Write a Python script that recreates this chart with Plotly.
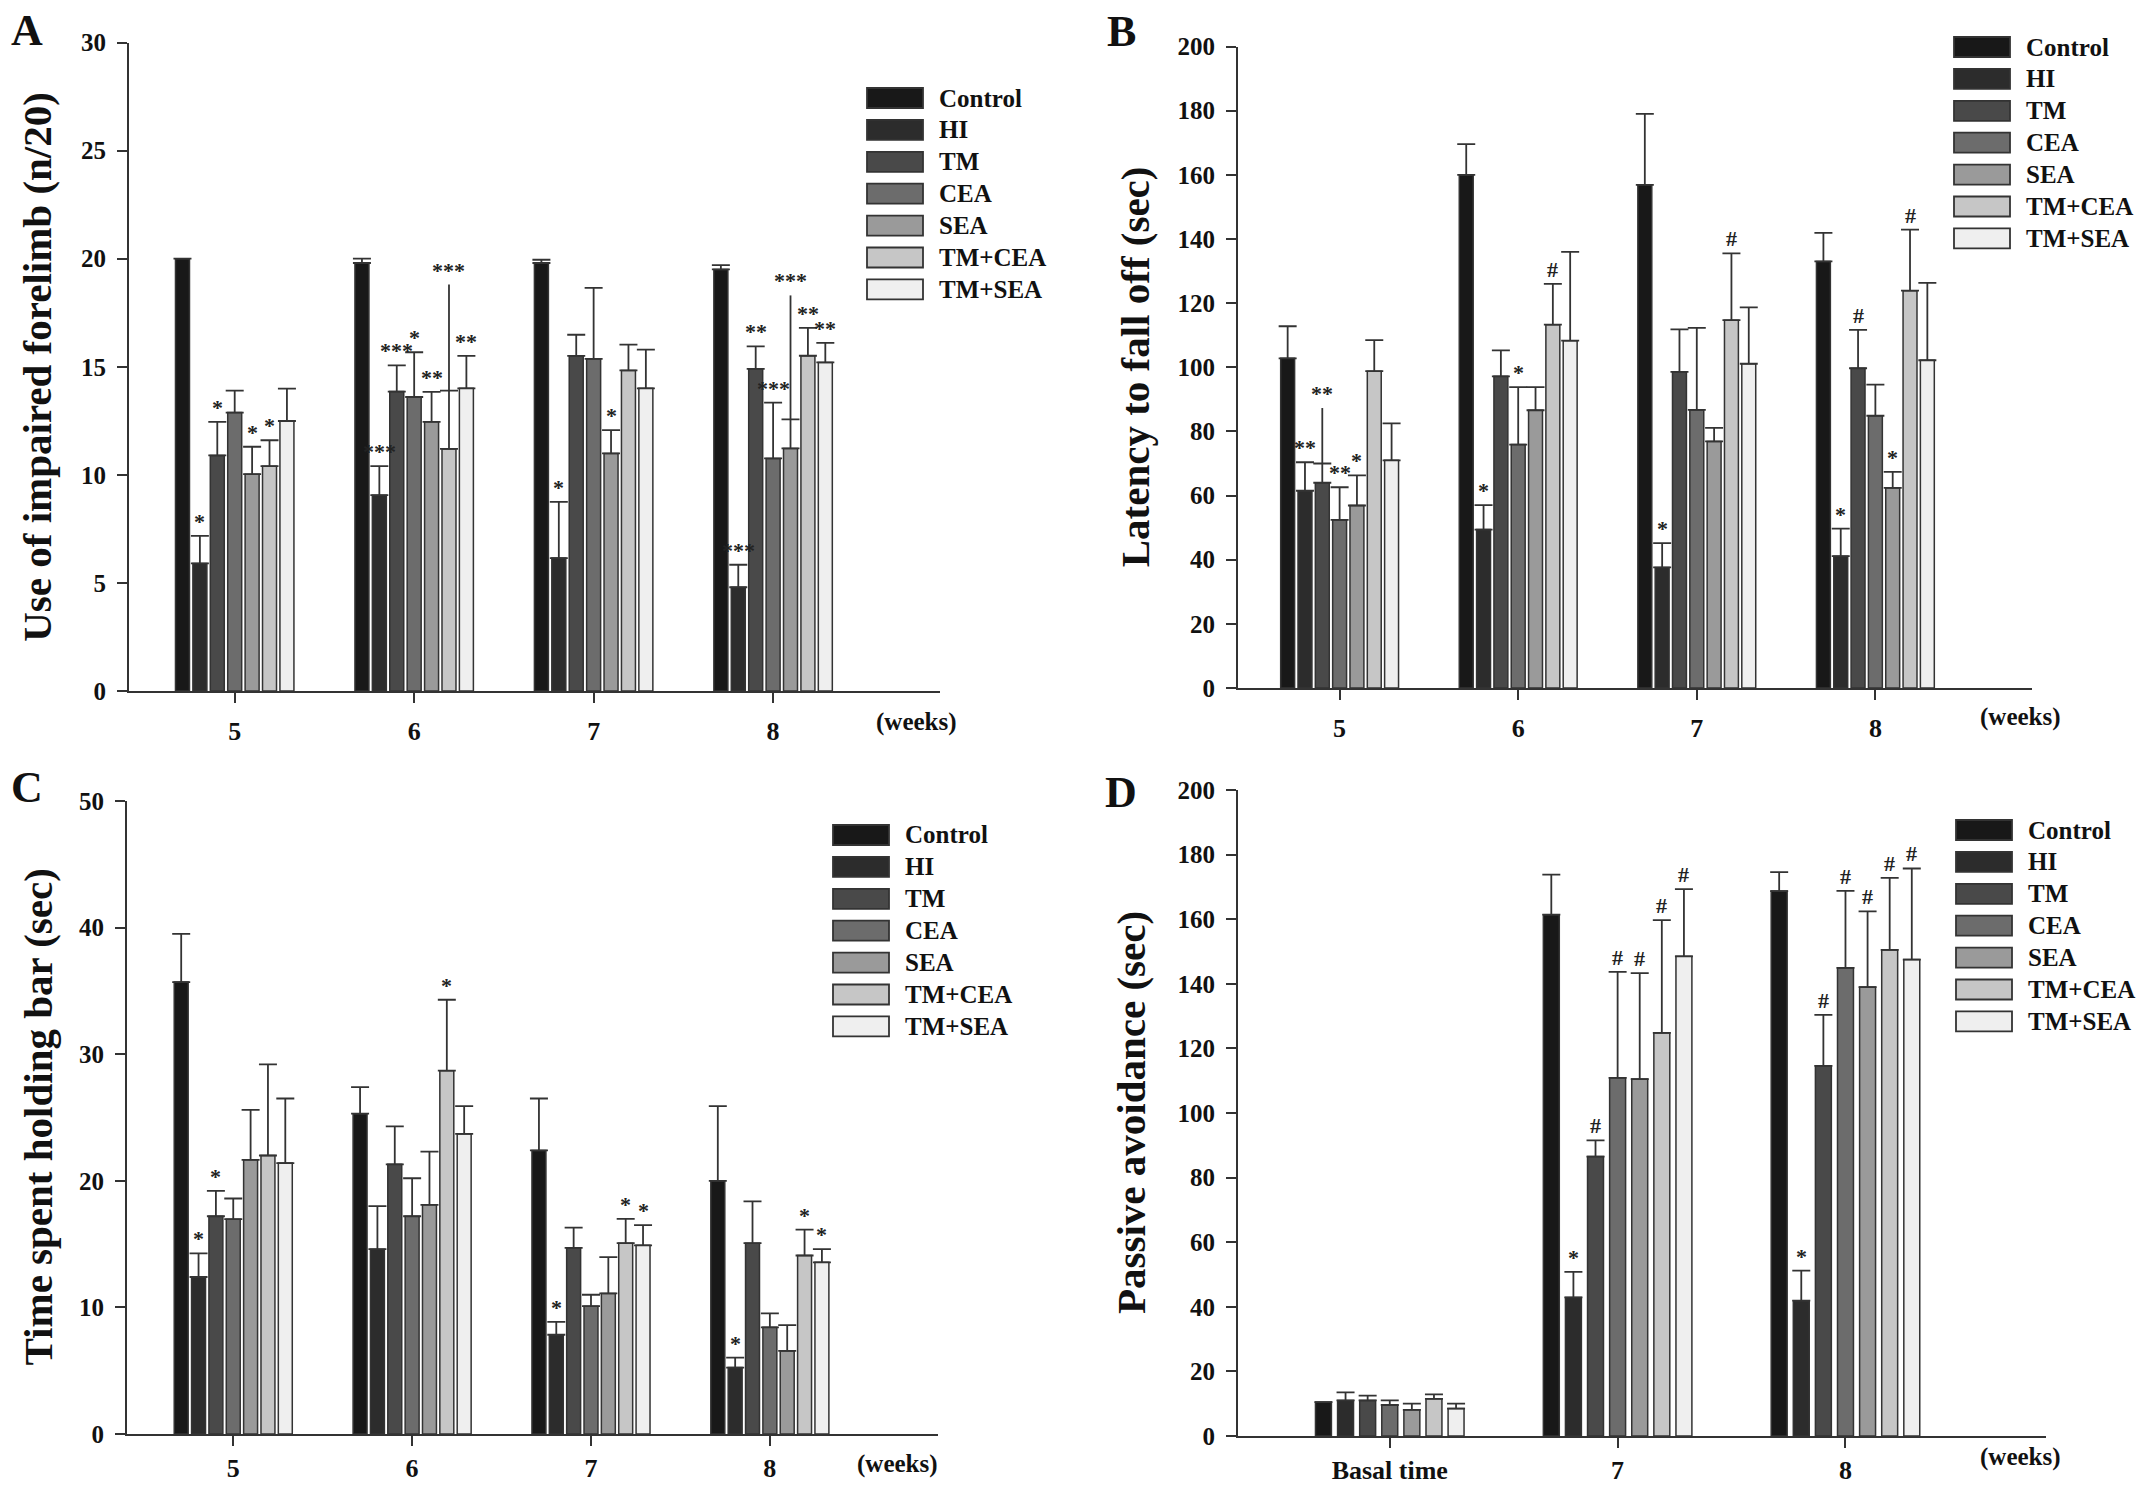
import plotly.graph_objects as go

W, H = 2150, 1489
SERIES = ["Control", "HI", "TM", "CEA", "SEA", "TM+CEA", "TM+SEA"]
FILLS = ["#181818", "#2c2c2c", "#494949", "#6c6c6c", "#9a9a9a", "#c6c6c6", "#efefef"]
EDGE = "#333333"
FONT = "Liberation Serif"

# ---------------- Panel A: Use of impaired forelimb ----------------
A_CATS = ["5", "6", "7", "8"]
A_MEAN = [
    [20.0, 19.8, 19.8, 19.5],
    [5.9, 9.06, 6.15, 4.8],
    [10.9, 13.85, 15.5, 14.9],
    [12.88, 13.6, 15.36, 10.76],
    [10.03, 12.45, 10.99, 11.22],
    [10.4, 11.2, 14.83, 15.51],
    [12.49, 14.0, 14.0, 15.2],
]
A_ERR = [
    [0.0, 0.2, 0.15, 0.2],
    [1.28, 1.34, 2.6, 1.04],
    [1.55, 1.21, 0.98, 1.04],
    [1.02, 2.07, 3.29, 2.58],
    [1.27, 1.39, 1.08, 1.35],
    [1.2, 2.7, 1.19, 1.29],
    [1.5, 1.5, 1.79, 0.9],
]
A_SIG = [
    ["", "", "", ""],
    ["*", "***", "*", "***"],
    ["*", "***", "", "**"],
    ["", "*", "", "***"],
    ["*", "**", "*", "***"],
    ["*", "***", "", "**"],
    ["", "**", "", "**"],
]
A_EXT = [(5, 1, 18.8), (4, 3, 18.3)]

# ---------------- Panel B: Latency to fall off ----------------
B_CATS = ["5", "6", "7", "8"]
B_MEAN = [
    [102.8, 160.0, 156.9, 133.0],
    [61.5, 49.4, 37.6, 41.1],
    [64.0, 97.2, 98.6, 99.7],
    [52.4, 75.9, 86.7, 84.9],
    [56.9, 86.6, 76.9, 62.4],
    [98.8, 113.3, 114.7, 123.9],
    [71.0, 108.3, 101.1, 102.2],
]
B_ERR = [
    [10.0, 9.6, 22.1, 8.9],
    [8.9, 7.6, 7.6, 8.6],
    [6.0, 8.1, 13.2, 12.0],
    [10.2, 17.9, 25.6, 9.7],
    [9.4, 7.2, 4.2, 5.0],
    [9.7, 12.7, 20.8, 19.0],
    [11.5, 27.7, 17.6, 24.1],
]
B_SIG = [
    ["", "", "", ""],
    ["**", "*", "*", "*"],
    ["**", "", "", "#"],
    ["**", "*", "", ""],
    ["*", "", "", "*"],
    ["", "#", "#", "#"],
    ["", "", "", ""],
]
B_EXT = [(2, 0, 87.3)]

# ---------------- Panel C: Time spent holding bar ----------------
C_CATS = ["5", "6", "7", "8"]
C_MEAN = [
    [35.7, 25.3, 22.4, 20.0],
    [12.4, 14.6, 7.84, 5.25],
    [17.2, 21.3, 14.7, 15.07],
    [16.97, 17.2, 10.1, 8.43],
    [21.66, 18.1, 11.1, 6.56],
    [22.0, 28.7, 15.07, 14.1],
    [21.4, 23.7, 14.9, 13.56],
]
C_ERR = [
    [3.8, 2.1, 4.1, 5.9],
    [1.86, 3.4, 1.02, 0.78],
    [2.0, 3.0, 1.6, 3.3],
    [1.63, 3.0, 0.9, 1.1],
    [3.94, 4.2, 2.87, 2.04],
    [7.2, 5.6, 1.93, 2.05],
    [5.1, 2.2, 1.6, 1.04],
]
C_SIG = [
    ["", "", "", ""],
    ["*", "", "*", "*"],
    ["*", "", "", ""],
    ["", "", "", ""],
    ["", "", "", ""],
    ["", "*", "*", "*"],
    ["", "", "*", "*"],
]
C_EXT = []

# ---------------- Panel D: Passive avoidance ----------------
D_CATS = ["Basal time", "7", "8"]
D_MEAN = [
    [10.5, 161.4, 168.7],
    [11.0, 42.9, 41.9],
    [11.0, 86.5, 114.6],
    [9.6, 110.9, 144.9],
    [8.1, 110.5, 139.0],
    [11.5, 124.8, 150.5],
    [8.5, 148.5, 147.5],
]
D_ERR = [
    [0.0, 12.4, 5.9],
    [2.5, 7.9, 9.3],
    [1.5, 5.0, 15.8],
    [1.4, 32.8, 23.9],
    [1.9, 32.8, 23.4],
    [1.4, 34.9, 22.3],
    [1.5, 20.8, 28.2],
]
D_SIG = [
    ["", "", ""],
    ["", "*", "*"],
    ["", "#", "#"],
    ["", "#", "#"],
    ["", "#", "#"],
    ["", "#", "#"],
    ["", "#", "#"],
]
D_EXT = []

PANELS = [
    dict(letter="A", cats=A_CATS, mean=A_MEAN, err=A_ERR, sig=A_SIG, ext=A_EXT,
         title="Use of impaired forelimb (n/20)", ymax=30, dtick=5,
         xpx=(129, 940), ypx=(42.5, 691), xr=(-0.589, 3.93), pitch=0.097, bw=0.078,
         leg=(867, 98), letter_pos=(27, 30), title_x=37, weeks=(916, 722), xstand=6),
    dict(letter="B", cats=B_CATS, mean=B_MEAN, err=B_ERR, sig=B_SIG, ext=B_EXT,
         title="Latency to fall off (sec)", ymax=200, dtick=20,
         xpx=(1238, 2032), ypx=(46.6, 688), xr=(-0.569, 3.877), pitch=0.097, bw=0.078,
         leg=(1954, 47), letter_pos=(1121, 31), title_x=1135, weeks=(2021, 717), xstand=6),
    dict(letter="C", cats=C_CATS, mean=C_MEAN, err=C_ERR, sig=C_SIG, ext=C_EXT,
         title="Time spent holding bar (sec)", ymax=50, dtick=10,
         xpx=(127, 938), ypx=(801, 1434), xr=(-0.594, 3.94), pitch=0.097, bw=0.078,
         leg=(833, 835), letter_pos=(27, 787), title_x=37, weeks=(897, 1464), xstand=0),
    dict(letter="D", cats=D_CATS, mean=D_MEAN, err=D_ERR, sig=D_SIG, ext=D_EXT,
         title="Passive avoidance (sec)", ymax=200, dtick=20,
         xpx=(1238, 2046), ypx=(790, 1436), xr=(-0.666, 2.88), pitch=0.097, bw=0.07,
         leg=(1956, 830), letter_pos=(1121, 792), title_x=1131, weeks=(2021, 1457), xstand=0),
]


def fx(px):
    return px / W


def fy(py):
    return 1 - py / H


def txt(x, y, text, size, **kw):
    d = dict(x=fx(x), y=fy(y), xref="paper", yref="paper", text=text, showarrow=False,
             xanchor="center", yanchor="middle",
             font=dict(family=FONT, size=size, color="#111111", weight="bold"))
    d.update(kw)
    return d


fig = go.Figure()
annotations = []
shapes = []
layout_axes = {}

for k, p in enumerate(PANELS, start=1):
    xa = "x" if k == 1 else f"x{k}"
    ya = "y" if k == 1 else f"y{k}"
    n = len(p["cats"])
    for j, name in enumerate(SERIES):
        xs = [i + (j - 3) * p["pitch"] for i in range(n)]
        fig.add_trace(go.Bar(
            x=xs, y=p["mean"][j], width=p["bw"], name=name, showlegend=False,
            marker=dict(color=FILLS[j], line=dict(color=EDGE, width=1.5)),
            error_y=dict(type="data", array=p["err"][j], arrayminus=[0] * n,
                         symmetric=False, color=EDGE, thickness=1.8, width=9),
            xaxis=xa, yaxis=ya,
        ))
    tops = {}
    for (j, i, top) in p["ext"]:
        xx = i + (j - 3) * p["pitch"]
        lo = p["mean"][j][i] + p["err"][j][i]
        tops[(j, i)] = top
        fig.add_trace(go.Scatter(x=[xx, xx], y=[lo, top], mode="lines",
                                 line=dict(color=EDGE, width=1.8), showlegend=False,
                                 hoverinfo="skip", xaxis=xa, yaxis=ya))
    for j in range(len(SERIES)):
        for i in range(n):
            s = p["sig"][j][i]
            if not s:
                continue
            yv = tops.get((j, i), p["mean"][j][i] + p["err"][j][i])
            annotations.append(dict(
                x=i + (j - 3) * p["pitch"], y=yv, xref=xa, yref=ya, text=s,
                showarrow=False, yanchor="bottom", xanchor="center", yshift=0,
                font=dict(family=FONT, size=22, color="#222222", weight="bold")))

    axis_common = dict(showline=True, linecolor=EDGE, linewidth=1.8, ticks="outside",
                       ticklen=10, tickwidth=1.8, tickcolor=EDGE, showgrid=False,
                       zeroline=False, automargin=False)
    layout_axes["xaxis" if k == 1 else f"xaxis{k}"] = dict(
        domain=[fx(p["xpx"][0]), fx(p["xpx"][1])], range=list(p["xr"]),
        anchor=ya, tickvals=list(range(n)), ticktext=p["cats"],
        ticklabelstandoff=p["xstand"],
        tickfont=dict(family=FONT, size=26, color="#111111", weight="bold"),
        **axis_common)
    layout_axes["yaxis" if k == 1 else f"yaxis{k}"] = dict(
        domain=[fy(p["ypx"][1]), fy(p["ypx"][0])], range=[0, p["ymax"]], dtick=p["dtick"],
        anchor=xa, ticklabelstandoff=6,
        tickfont=dict(family=FONT, size=25, color="#111111", weight="bold"),
        **axis_common)

    annotations.append(txt(p["letter_pos"][0], p["letter_pos"][1], p["letter"], 44))
    annotations.append(txt(p["title_x"], (p["ypx"][0] + p["ypx"][1]) / 2, p["title"], 41,
                           textangle=-90))
    annotations.append(txt(p["weeks"][0], p["weeks"][1], "(weeks)", 25))
    lx, ly = p["leg"]
    for j, name in enumerate(SERIES):
        cy = ly + j * 31.9
        shapes.append(dict(type="rect", xref="paper", yref="paper",
                           x0=fx(lx), x1=fx(lx + 56), y0=fy(cy - 10), y1=fy(cy + 10),
                           fillcolor=FILLS[j], line=dict(color=EDGE, width=1.8)))
        annotations.append(txt(lx + 70, cy, name, 25, xanchor="left"))

fig.update_layout(
    template="none",
    width=W, height=H, margin=dict(l=0, r=0, t=0, b=0, pad=0, autoexpand=False),
    paper_bgcolor="white", plot_bgcolor="white", barmode="overlay", showlegend=False,
    annotations=annotations, shapes=shapes, **layout_axes,
)

fig.write_html("out.html", config={"displayModeBar": False},
               post_script="document.body.style.margin='0px';document.body.style.overflow='hidden';")
